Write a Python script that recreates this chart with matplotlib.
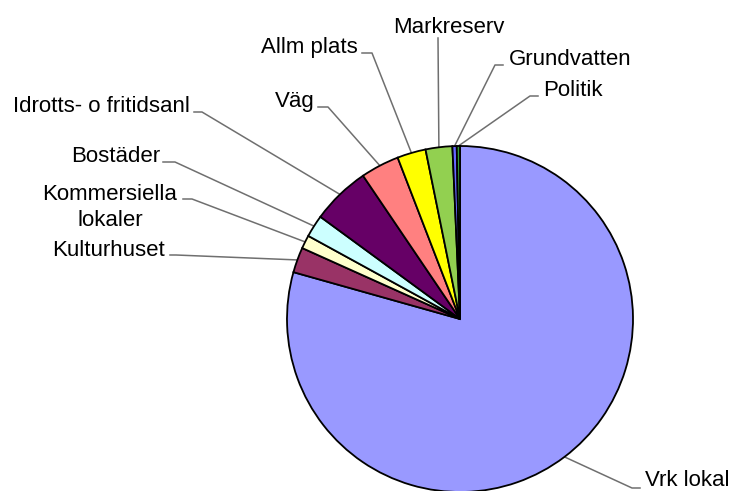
import numpy as np
import matplotlib
matplotlib.use('Agg')
import matplotlib.pyplot as plt

# slice data, clockwise from 12 o'clock
labels = ['Vrk lokal', 'Kulturhuset', 'Kommersiella\nlokaler', 'Bostäder',
          'Idrotts- o fritidsanl', 'Väg', 'Allm plats', 'Markreserv',
          'Grundvatten', 'Politik']
values = [79.3, 2.36, 1.25, 2.08, 5.47, 3.6, 2.67, 2.49, 0.4, 0.3]
colors = ['#9999FF', '#993366', '#FFFFCC', '#CCFFFF', '#660066',
          '#FF8080', '#FFFF00', '#92D050', '#6666FF', '#339933']

# layout in pixels (from top-left), W x H figure
W, H = 732, 491
CX, CY, R = 460, 319, 173

# text x, baseline y, alignment, leader elbow points (near pie -> near text)
label_layout = [
    (645, 486, 'left',   [(632, 488), (640, 488)]),
    (165, 256, 'right',  [(176, 255), (170, 255)]),
    (110, 200, 'center', [(192, 199), (183, 199)]),
    (160, 162, 'right',  [(175, 162), (163, 162)]),
    (190, 112, 'right',  [(202, 112), (194, 112)]),
    (315, 107, 'right',  [(328, 107), (318, 107)]),
    (358, 53,  'right',  [(372, 53), (362, 53)]),
    (449, 33,  'center', [(438, 38)]),
    (509, 65,  'left',   [(495, 65), (503, 65)]),
    (543, 96,  'left',   [(530, 96), (538, 96)]),
]

plt.rcParams['font.family'] = ['Liberation Sans', 'DejaVu Sans']

fig = plt.figure(figsize=(W / 100, H / 100), dpi=100)
ax = fig.add_axes([0, 0, 1, 1])

wedges, _ = ax.pie(values, colors=colors, startangle=90, counterclock=False,
                   center=(CX, H - CY), radius=R,
                   wedgeprops=dict(edgecolor='black', linewidth=1.3))
ax.set_aspect('auto')
ax.set_xlim(0, W)
ax.set_ylim(0, H)
ax.axis('off')

for w, lab, (tx, ty, ha, elbow) in zip(wedges, labels, label_layout):
    mid = np.deg2rad((w.theta1 + w.theta2) / 2)
    ex, ey = CX + R * np.cos(mid), (H - CY) + R * np.sin(mid)
    xs = [ex] + [p[0] for p in elbow]
    ys = [ey] + [H - p[1] for p in elbow]
    ax.plot(xs, ys, color='#6f6f6f', linewidth=1.1, zorder=0)
    for i, line in enumerate(lab.split('\n')):
        ax.text(tx, H - (ty + i * 26), line, ha=ha, va='baseline',
                fontsize=16, color='black')

fig.savefig('out.png', dpi=100, facecolor='white')
